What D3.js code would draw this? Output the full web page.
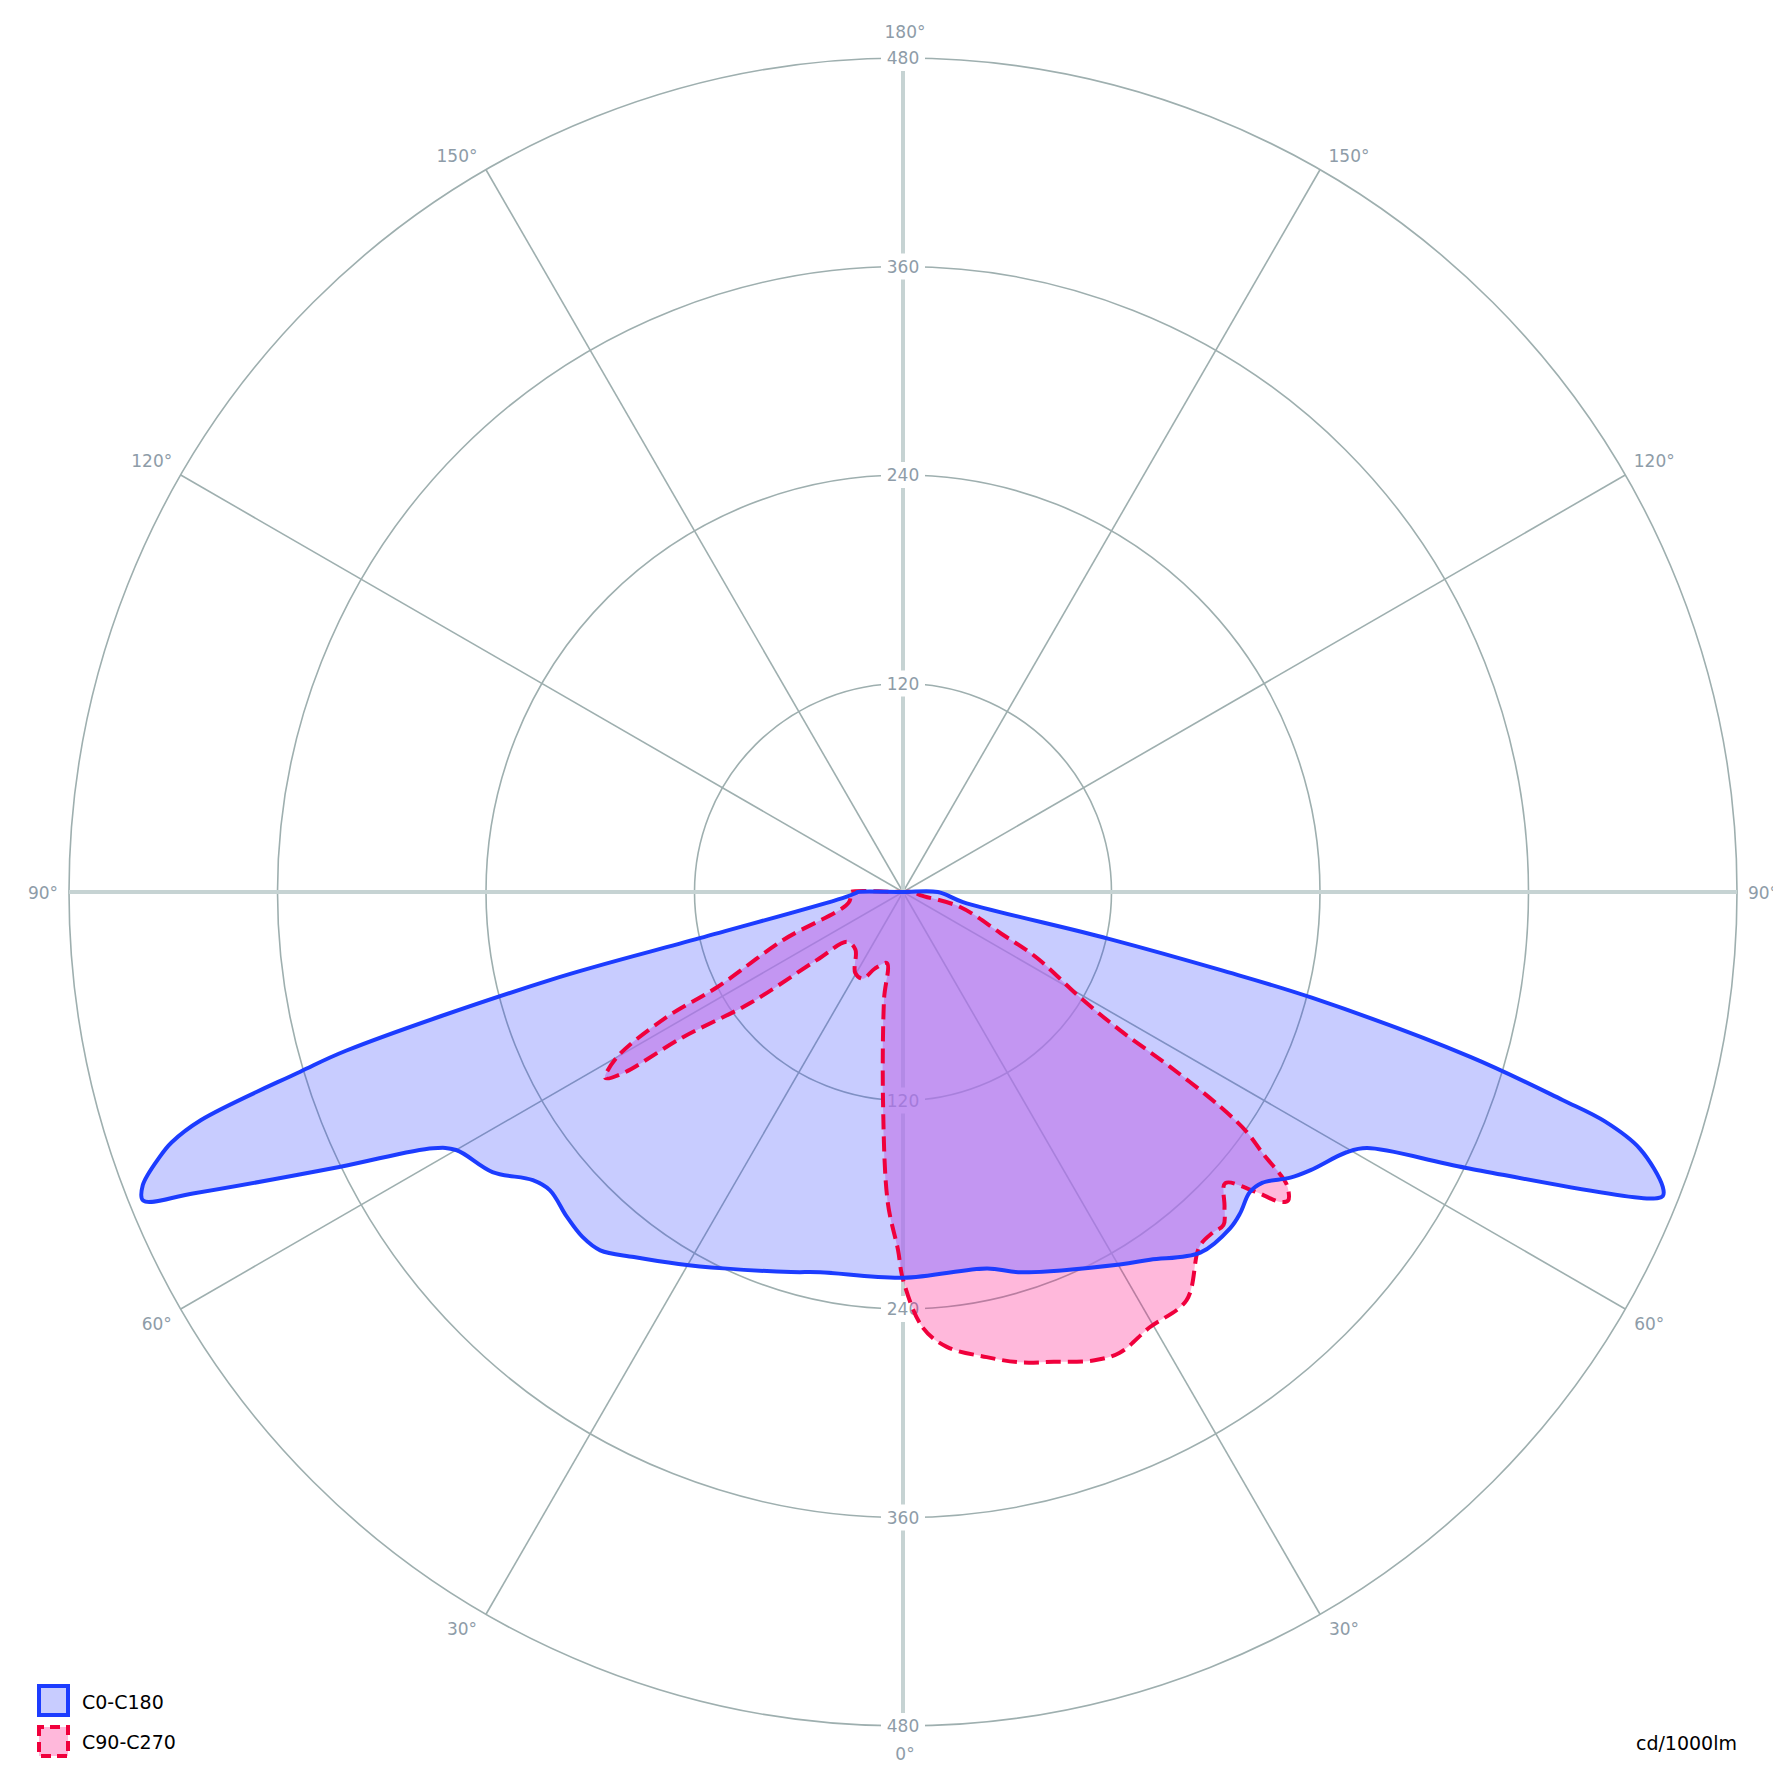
<!DOCTYPE html>
<html>
<head>
<meta charset="utf-8">
<script src="https://cdn.jsdelivr.net/npm/d3@7"></script>
<style>
  html, body { margin: 0; padding: 0; background: #fff; }
  svg { display: block; }
  .grid-label { font-family: "DejaVu Sans", sans-serif; font-size: 17px; fill: #8e9ca8; }
  .legend-label { font-family: "DejaVu Sans", sans-serif; font-size: 19px; fill: #000; }
</style>
</head>
<body>
<script>
// Gamma angles (deg) and intensities (cd/1000lm)
// C0 = right half of the blue curve, C180 = left half
var c0Gamma  = [0, 12.6, 17.1, 30.2, 33.9, 39.5, 44.2, 46.4, 49.1, 51.0, 53.6, 55.7, 59.6, 61.1, 63.9, 67.7, 68.2, 68.8, 70.8, 71.9, 72.5, 73.8, 75.5, 76.2, 77.2, 80.5, 90, 180];
var c0Values = [222, 222, 229, 248, 255, 269, 270, 268, 264, 266, 277, 284, 296, 305, 361, 465, 471, 469, 449, 425, 398, 340, 243, 188, 121, 35, 20, 0];

var c180Gamma  = [0, 12.3, 16.4, 25.5, 31.1, 36.4, 40.2, 42.9, 46.0, 49.8, 52.1, 55.7, 60.0, 61.4, 64.0, 67.0, 67.9, 68.9, 70.4, 71.1, 72.0, 73.4, 74.1, 76.0, 77.2, 84.3, 88.8, 90, 180];
var c180Values = [222, 224, 228, 240, 250, 261, 270, 271, 269, 266, 270, 286, 297, 308, 361, 444, 472, 469, 454, 445, 425, 362, 333, 209, 120, 35, 27, 26, 0];

// C90 = right half of the red curve, C270 = left half
var c90Gamma  = [0, 2.6, 5.5, 10.2, 14.0, 17.8, 22.1, 25.2, 29.5, 34.8, 39.9, 42.3, 43.9, 45.6, 47.9, 49.6, 50.6, 51.3, 52.5, 53.0, 54.0, 55.1, 55.9, 56.8, 57.5, 59.3, 63.8, 67.1, 75.3, 80, 90, 180];
var c90Values = [223, 251, 263, 272, 279, 284, 291, 293, 288, 286, 266, 265, 266, 259, 250, 266, 281, 284, 279, 274, 256, 241, 221, 184, 148, 118, 86, 61, 34, 10, 6, 0];

var c270Gamma  = [0, 0.8, 2.8, 5.4, 10.0, 12.7, 20.2, 24.9, 30.6, 39.6, 48.2, 51.7, 54.0, 56.6, 57.1, 58.0, 60.0, 62.1, 62.9, 68.2, 78.7, 88.9, 90, 180];
var c270Values = [223, 206, 179, 122, 63, 42, 47, 55, 54, 43, 43, 63, 109, 152, 192, 202, 190, 154, 120, 74, 32, 30, 30, 0];

var ringValues = [120, 240, 360, 480];
var spokeAngles = [0, 30, 60, 90, 120, 150, 180];
var seriesNames = ["C0-C180", "C90-C270"];
var unitLabel = "cd/1000lm";

var width = 1773, height = 1773;
var cx = 903, cy = 892;

var svg = d3.select("body").append("svg")
    .attr("width", width)
    .attr("height", height);

var r = d3.scaleLinear().domain([0, 480]).range([0, 834]);
var rad = Math.PI / 180;

var chart = svg.append("g")
    .attr("transform", `translate(${cx}, ${cy})`);

// grid circles
chart.append("g").selectAll("circle")
    .data(ringValues)
    .enter()
    .append("circle")
    .attr("r", d => r(d))
    .attr("fill", "none")
    .attr("stroke", "#9eafaf")
    .attr("stroke-width", 1.6);

// diagonal spokes, both sides
var diag = [];
spokeAngles.filter(a => a % 90 !== 0).forEach(function(a) {
  diag.push({g: a, side: 1});
  diag.push({g: a, side: -1});
});
chart.append("g").selectAll("line")
    .data(diag)
    .enter()
    .append("line")
    .attr("x1", 0).attr("y1", 0)
    .attr("x2", d => d.side * r(480) * Math.sin(d.g * rad))
    .attr("y2", d => r(480) * Math.cos(d.g * rad))
    .attr("stroke", "#9eafaf")
    .attr("stroke-width", 1.6);

// main axes
chart.append("line")
    .attr("x1", 0).attr("x2", 0)
    .attr("y1", -r(480)).attr("y2", r(480))
    .attr("stroke", "#c6d3d3").attr("stroke-width", 4);
chart.append("line")
    .attr("y1", 0).attr("y2", 0)
    .attr("x1", -r(480)).attr("x2", r(480))
    .attr("stroke", "#c6d3d3").attr("stroke-width", 4);

// ring value labels, top and bottom
var ringLabels = [];
ringValues.forEach(function(v) {
  ringLabels.push({v: v, y: -r(v)});
  ringLabels.push({v: v, y: r(v)});
});
var rl = chart.append("g").selectAll("g")
    .data(ringLabels)
    .enter()
    .append("g")
    .attr("transform", d => `translate(0, ${d.y})`);
rl.append("rect")
    .attr("x", -22).attr("y", -13)
    .attr("width", 44).attr("height", 26)
    .attr("fill", "#fff");
rl.append("text")
    .attr("class", "grid-label")
    .attr("text-anchor", "middle")
    .attr("dy", "0.36em")
    .text(d => d.v);

// angle labels
var angLabels = [];
spokeAngles.forEach(function(a) {
  if (a === 0 || a === 180) angLabels.push({g: a, side: 1});
  else { angLabels.push({g: a, side: -1}); angLabels.push({g: a, side: 1}); }
});
chart.append("g").selectAll("text")
    .data(angLabels)
    .enter()
    .append("text")
    .attr("class", "grid-label")
    .attr("text-anchor", "middle")
    .attr("dy", "0.36em")
    .attr("x", function(d) {
      var ex = d.side * r(480) * Math.sin(d.g * rad);
      if (d.g === 0 || d.g === 180) return ex + 2;
      if (d.g === 90) return ex + d.side * 26;
      return ex + d.side * (d.g < 90 ? 24 : 29);
    })
    .attr("y", function(d) {
      var ey = r(480) * Math.cos(d.g * rad);
      if (d.g === 0) return ey + 28;
      if (d.g === 180) return ey - 26;
      if (d.g === 90) return ey + 1;
      return ey + (d.g < 90 ? 15 : -14);
    })
    .text(d => d.g + "°");

// build closed outline: right half from 0 up to 180, then left half back down
function outline(rightG, rightV, leftG, leftV) {
  var pts = [];
  rightG.forEach(function(g, i) { pts.push([Math.PI - g * rad, r(rightV[i])]); });
  for (var i = leftG.length - 1; i >= 0; i--) {
    if (leftG[i] === 180 || leftG[i] === 0) continue;
    pts.push([Math.PI + leftG[i] * rad, r(leftV[i])]);
  }
  return pts;
}

var radial = d3.lineRadial()
    .angle(d => d[0])
    .radius(d => d[1])
    .curve(d3.curveCatmullRomClosed.alpha(0.5));

var redPath = radial(outline(c90Gamma, c90Values, c270Gamma, c270Values));
var bluePath = radial(outline(c0Gamma, c0Values, c180Gamma, c180Values));

svg.append("defs").append("clipPath")
    .attr("id", "blueClip")
    .append("path")
    .attr("d", bluePath);

// fills first, then outlines on top
chart.append("path")
    .attr("d", redPath)
    .attr("fill", "rgb(255,0,124)")
    .attr("fill-opacity", 0.28)
    .attr("stroke", "none");

chart.append("path")
    .attr("d", bluePath)
    .attr("fill", "rgb(35,51,255)")
    .attr("fill-opacity", 0.25)
    .attr("stroke", "none");

// overlap of both areas reads more violet in the original
chart.append("path")
    .attr("d", redPath)
    .attr("clip-path", "url(#blueClip)")
    .attr("fill", "rgb(190,150,255)")
    .attr("fill-opacity", 0.5)
    .attr("stroke", "none");

chart.append("path")
    .attr("d", redPath)
    .attr("fill", "none")
    .attr("stroke", "#f0003c")
    .attr("stroke-width", 4)
    .attr("stroke-dasharray", "15 7")
    .attr("stroke-linejoin", "round");

chart.append("path")
    .attr("d", bluePath)
    .attr("fill", "none")
    .attr("stroke", "#1c3cff")
    .attr("stroke-width", 4)
    .attr("stroke-linejoin", "round");

// legend
var legend = svg.append("g");
legend.append("rect")
    .attr("x", 39).attr("y", 1686).attr("width", 29).attr("height", 29)
    .attr("fill", "rgb(35,51,255)").attr("fill-opacity", 0.25)
    .attr("stroke", "#1c3cff").attr("stroke-width", 4);
legend.append("rect")
    .attr("x", 39).attr("y", 1727).attr("width", 29).attr("height", 29)
    .attr("fill", "rgb(255,0,124)").attr("fill-opacity", 0.28)
    .attr("stroke", "#f0003c").attr("stroke-width", 4)
    .attr("stroke-dasharray", "10 6").attr("stroke-dashoffset", 5);
legend.selectAll("text.legend-label")
    .data(seriesNames)
    .enter()
    .append("text")
    .attr("class", "legend-label")
    .attr("x", 82)
    .attr("y", (d, i) => 1702 + i * 40)
    .attr("dy", "0.36em")
    .text(d => d);

svg.append("text")
    .attr("class", "legend-label")
    .attr("font-size", "18px")
    .attr("text-anchor", "end")
    .attr("x", 1737).attr("y", 1743)
    .attr("dy", "0.36em")
    .text(unitLabel);
</script>
</body>
</html>
